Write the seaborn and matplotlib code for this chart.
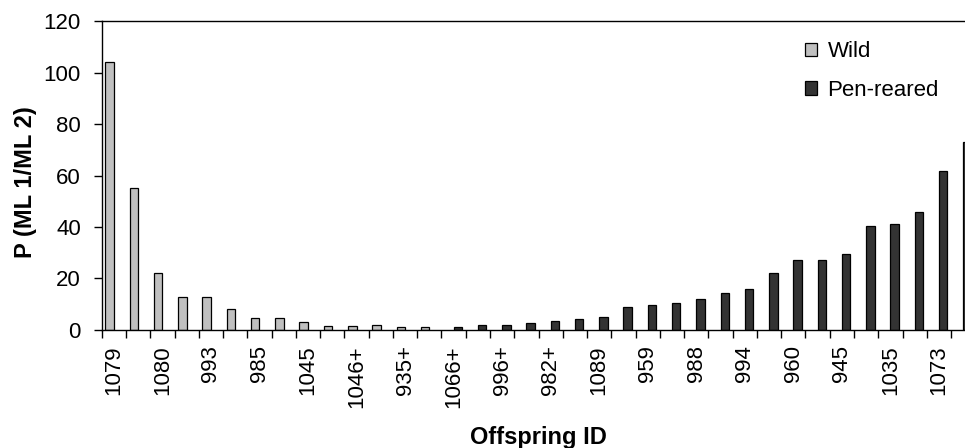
import matplotlib
matplotlib.use('Agg')
import matplotlib.pyplot as plt
from matplotlib.patches import Patch
import seaborn as sns
import pandas as pd

# P (ML 1/ML 2) per offspring, sorted as in the figure
wild_P = [104.2, 55.3, 22.3, 12.9, 12.9, 8.0, 4.8, 4.8, 3.2, 1.7, 1.7, 1.8, 1.0, 1.0]
pen_P = [1.0, 1.8, 1.8, 2.6, 3.4, 4.3, 4.9, 9.1, 9.8, 10.6, 12.0, 14.5, 16.0,
         22.3, 27.1, 27.1, 29.4, 40.5, 41.3, 46.0, 61.7, 73.0]
# only every second offspring ID is printed on the axis
shown_ids = ['1079', '1080', '993', '985', '1045', '1046+', '935+', '1066+', '996+',
             '982+', '1089', '959', '988', '994', '960', '945', '1035', '1073']

n_wild = len(wild_P)
n_all = n_wild + len(pen_P)
df = pd.DataFrame({
    'slot': list(range(n_all)),
    'group': ['Wild'] * n_wild + ['Pen-reared'] * len(pen_P),
    'P': wild_P + pen_P,
})

sns.set_style('white')
plt.rcParams['font.family'] = ['Liberation Sans', 'DejaVu Sans']
plt.rcParams['text.color'] = 'black'
plt.rcParams['axes.labelcolor'] = 'black'
plt.rcParams['xtick.color'] = 'black'
plt.rcParams['ytick.color'] = 'black'

fig = plt.figure(figsize=(9.65, 4.48), dpi=100)
# plot area runs past the right edge of the picture, like the original crop
ax = fig.add_axes([0.1054, 0.2634, 0.9053, 0.6897])

colors = {'Wild': '#c0c0c0', 'Pen-reared': '#333333'}
sns.barplot(data=df, x='slot', y='P', hue='group', hue_order=['Wild', 'Pen-reared'],
            order=list(range(n_all)), palette=colors, dodge=True, width=0.7,
            saturation=1, edgecolor='black', linewidth=0.9, legend=False, ax=ax)

ax.set_xlim(-0.5, n_all - 0.5)
ax.set_ylim(0, 120)
ax.set_yticks(range(0, 121, 20))

ax.set_xticks(range(0, n_all - 1, 2))
ax.set_xticklabels(shown_ids, rotation=90, fontsize=16)
ax.set_xticks([i - 0.5 for i in range(n_all + 1)], minor=True)
ax.tick_params(axis='x', which='major', length=0, pad=11)
ax.tick_params(axis='x', which='minor', length=6, width=1, color='black', direction='out', bottom=True)
ax.tick_params(axis='y', length=6, width=1, color='black', direction='out', left=True,
               labelsize=16, pad=9)

for side in ['left', 'bottom', 'top', 'right']:
    ax.spines[side].set_visible(True)
    ax.spines[side].set_color('black')
    ax.spines[side].set_linewidth(1.0)

ax.set_xlabel('Offspring ID', fontsize=17, fontweight='bold', va='baseline')
ax.xaxis.set_label_coords(0.4995, -0.37)
ax.set_ylabel('P (ML 1/ML 2)', fontsize=17, fontweight='bold', va='baseline')
ax.yaxis.set_label_coords(-0.0801, 0.48)

handles = [Patch(facecolor=colors[g], edgecolor='black', linewidth=0.9, label=g)
           for g in ['Wild', 'Pen-reared']]
ax.legend(handles=handles, loc='upper left', bbox_to_anchor=(0.834, 0.908),
          bbox_transform=fig.transFigure, frameon=False, fontsize=16,
          handlelength=0.57, handleheight=0.57, handletextpad=0.45,
          labelspacing=0.78, borderpad=0, borderaxespad=0)

plt.savefig('out.png', dpi=100)
